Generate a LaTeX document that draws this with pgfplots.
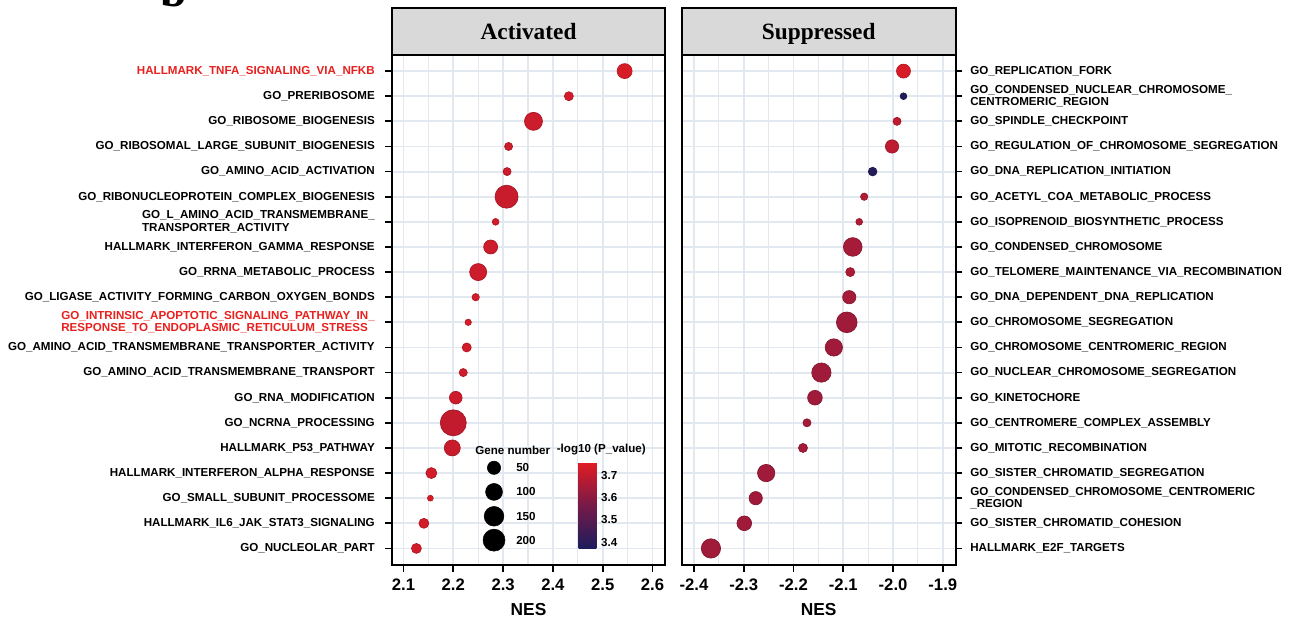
\documentclass[border=0pt]{standalone}
\usepackage{fontspec}
\setmainfont{Liberation Sans}
\newfontfamily\stripfont{Liberation Serif}
\usepackage{pgfplots}
\pgfplotsset{compat=1.18}
\usepackage{pgfplotstable}
\usetikzlibrary{calc}
\definecolor{gridc}{RGB}{226,232,239}
\definecolor{stripc}{RGB}{217,217,217}
\definecolor{labred}{RGB}{232,32,30}

% row  NES  gene number  -log10(P)
\pgfplotstableread{
row nes genes logp
1 2.544 71 3.74
2 2.432 13 3.73
3 2.361 119 3.72
4 2.311 8 3.72
5 2.308 8 3.72
6 2.307 224 3.71
7 2.285 3 3.73
8 2.275 58 3.72
9 2.250 102 3.72
10 2.245 5 3.73
11 2.230 2 3.74
12 2.227 13 3.73
13 2.220 8 3.73
14 2.205 43 3.72
15 2.200 303 3.70
16 2.198 86 3.71
17 2.156 27 3.73
18 2.154 1 3.74
19 2.141 19 3.73
20 2.126 19 3.73
}\actdata

\pgfplotstableread{
row nes genes logp
1 -1.979 58 3.74
2 -1.979 3 3.38
3 -1.992 8 3.70
4 -2.002 50 3.69
5 -2.041 11 3.39
6 -2.058 5 3.67
7 -2.068 3 3.67
8 -2.081 131 3.65
9 -2.086 13 3.66
10 -2.088 50 3.65
11 -2.093 171 3.64
12 -2.119 107 3.64
13 -2.144 143 3.64
14 -2.157 67 3.64
15 -2.173 8 3.65
16 -2.181 13 3.65
17 -2.255 107 3.64
18 -2.276 50 3.64
19 -2.299 67 3.64
20 -2.366 143 3.64
}\supdata

% size legend keys (gene number)
\pgfplotstableread{
x y genes
2.2818 16.79 50
2.2818 17.75 100
2.2818 18.72 150
2.2818 19.67 200
}\sizekey

\pgfplotsset{
  panel/.style={
    scale only axis,
    height=382.5pt,
    y dir=reverse, ymin=0.36, ymax=20.66, ytick={1,...,20},
    axis line style={line width=1.8pt, black},
    major tick style={line width=1.3pt, black},
    tick align=outside, major tick length=5pt, minor tick length=0pt,
    grid=both,
    major grid style={line width=1.4pt, gridc},
    minor grid style={line width=0.8pt, gridc},
    xticklabel style={font=\fontsize{12.5}{12.5}\selectfont\bfseries, yshift=-2.2pt},
    xlabel={NES},
    xlabel style={font=\fontsize{13}{13}\selectfont\bfseries, yshift=-2.6pt},
    yticklabel style={font=\fontsize{8.7}{9.4}\selectfont\bfseries, align=left},
    colormap={nes}{rgb255=(28,28,92) rgb255=(118,26,72) rgb255=(225,28,36)},
    point meta min=3.373, point meta max=3.755,
    xtick pos=lower,
  },
  dots/.style={
    scatter, only marks, mark=*,
    point meta=\thisrow{logp},
    visualization depends on={(4.6+1.23*sqrt(\thisrow{genes}))*0.375 \as \msize},
    scatter/use mapped color={draw=mapped color!82!black, fill=mapped color},
    scatter/@pre marker code/.append style={/tikz/mark size=\msize pt},
    line width=0.5pt,
  },
}

\begin{document}
\begin{tikzpicture}
\useasboundingbox (0,0) rectangle (969pt,-464.25pt);

\node[anchor=base west, inner sep=0pt] at (120pt,-5pt)
  {\stripfont\bfseries\fontsize{36}{36}\selectfont b};

% ---------------- Activated ----------------
\begin{axis}[panel,
  at={(294pt,-423.75pt)}, anchor=south west,
  width=204.75pt,
  xmin=2.077, xmax=2.625,
  xtick={2.1,2.2,2.3,2.4,2.5,2.6},
  xticklabels={2.1,2.2,2.3,2.4,2.5,2.6},
  minor xtick={2.15,2.25,2.35,2.45,2.55},
  ytick pos=left,
  yticklabel style={xshift=-4.4pt},
  yticklabels={
    \textcolor{labred}{HALLMARK\_TNFA\_SIGNALING\_VIA\_NFKB},
    GO\_PRERIBOSOME,
    GO\_RIBOSOME\_BIOGENESIS,
    GO\_RIBOSOMAL\_LARGE\_SUBUNIT\_BIOGENESIS,
    GO\_AMINO\_ACID\_ACTIVATION,
    GO\_RIBONUCLEOPROTEIN\_COMPLEX\_BIOGENESIS,
    {GO\_L\_AMINO\_ACID\_TRANSMEMBRANE\_\\TRANSPORTER\_ACTIVITY},
    HALLMARK\_INTERFERON\_GAMMA\_RESPONSE,
    GO\_RRNA\_METABOLIC\_PROCESS,
    GO\_LIGASE\_ACTIVITY\_FORMING\_CARBON\_OXYGEN\_BONDS,
    {\textcolor{labred}{GO\_INTRINSIC\_APOPTOTIC\_SIGNALING\_PATHWAY\_IN\_}\\\textcolor{labred}{RESPONSE\_TO\_ENDOPLASMIC\_RETICULUM\_STRESS}},
    GO\_AMINO\_ACID\_TRANSMEMBRANE\_TRANSPORTER\_ACTIVITY,
    GO\_AMINO\_ACID\_TRANSMEMBRANE\_TRANSPORT,
    GO\_RNA\_MODIFICATION,
    GO\_NCRNA\_PROCESSING,
    HALLMARK\_P53\_PATHWAY,
    HALLMARK\_INTERFERON\_ALPHA\_RESPONSE,
    GO\_SMALL\_SUBUNIT\_PROCESSOME,
    HALLMARK\_IL6\_JAK\_STAT3\_SIGNALING,
    GO\_NUCLEOLAR\_PART},
  colorbar,
  colorbar style={
    at={($(parent axis.south west)+(131.5pt,12.5pt)$)}, anchor=south west,
    scale only axis, width=13.3pt, height=64.2pt,
    y dir=normal,
    ytick={3.4,3.5,3.6,3.7}, yticklabels={3.4,3.5,3.6,3.7},
    yticklabel style={font=\fontsize{8.7}{9}\selectfont\bfseries},
    major tick length=0pt, axis line style={draw=none},
    grid=none,
  },
]
\addplot[dots] table[x=nes, y=row] {\actdata};
\addplot[scatter, only marks, mark=*,
    point meta=3.5,
    visualization depends on={(4.6+1.23*sqrt(\thisrow{genes}))*0.375 \as \msize},
    scatter/use mapped color={draw=black, fill=black},
    scatter/@pre marker code/.append style={/tikz/mark size=\msize pt}]
  table[x=x, y=y] {\sizekey};
\end{axis}

% ---------------- Suppressed ----------------
\begin{axis}[panel,
  at={(511.3pt,-423.75pt)}, anchor=south west,
  width=205.5pt,
  xmin=-2.4247, xmax=-1.874,
  xtick={-2.4,-2.3,-2.2,-2.1,-2.0,-1.9},
  xticklabels={-2.4,-2.3,-2.2,-2.1,-2.0,-1.9},
  minor xtick={-2.35,-2.25,-2.15,-2.05,-1.95},
  ytick pos=right, yticklabel pos=right,
  yticklabel style={xshift=2.4pt},
  yticklabels={
    GO\_REPLICATION\_FORK,
    {GO\_CONDENSED\_NUCLEAR\_CHROMOSOME\_\\CENTROMERIC\_REGION},
    GO\_SPINDLE\_CHECKPOINT,
    GO\_REGULATION\_OF\_CHROMOSOME\_SEGREGATION,
    GO\_DNA\_REPLICATION\_INITIATION,
    GO\_ACETYL\_COA\_METABOLIC\_PROCESS,
    GO\_ISOPRENOID\_BIOSYNTHETIC\_PROCESS,
    GO\_CONDENSED\_CHROMOSOME,
    GO\_TELOMERE\_MAINTENANCE\_VIA\_RECOMBINATION,
    GO\_DNA\_DEPENDENT\_DNA\_REPLICATION,
    GO\_CHROMOSOME\_SEGREGATION,
    GO\_CHROMOSOME\_CENTROMERIC\_REGION,
    GO\_NUCLEAR\_CHROMOSOME\_SEGREGATION,
    GO\_KINETOCHORE,
    GO\_CENTROMERE\_COMPLEX\_ASSEMBLY,
    GO\_MITOTIC\_RECOMBINATION,
    GO\_SISTER\_CHROMATID\_SEGREGATION,
    {GO\_CONDENSED\_CHROMOSOME\_CENTROMERIC\\\_REGION},
    GO\_SISTER\_CHROMATID\_COHESION,
    HALLMARK\_E2F\_TARGETS},
]
\addplot[dots] table[x=nes, y=row] {\supdata};
\end{axis}

% strips
\draw[fill=stripc, line width=1.8pt] (294pt,-6.2pt) rectangle (498.75pt,-41.25pt);
\node[anchor=base] at (396.4pt,-29.5pt) {\stripfont\bfseries\fontsize{17.5}{17.5}\selectfont Activated};
\draw[fill=stripc, line width=1.8pt] (511.3pt,-6.2pt) rectangle (716.8pt,-41.25pt);
\node[anchor=base] at (614pt,-29.5pt) {\stripfont\bfseries\fontsize{17.5}{17.5}\selectfont Suppressed};

% legend texts
\begin{scope}[every node/.style={font=\fontsize{8.7}{9}\selectfont\bfseries}]
\node at (384.6pt,-337.5pt) {Gene number};
\node at (451pt,-337.5pt) {-log10 (P\_value)};
\node[anchor=west, inner sep=0pt] at (387pt,-350.8pt) {50};
\node[anchor=west, inner sep=0pt] at (387pt,-368.8pt) {100};
\node[anchor=west, inner sep=0pt] at (387pt,-387pt) {150};
\node[anchor=west, inner sep=0pt] at (387pt,-405pt) {200};
\end{scope}
\end{tikzpicture}
\end{document}
